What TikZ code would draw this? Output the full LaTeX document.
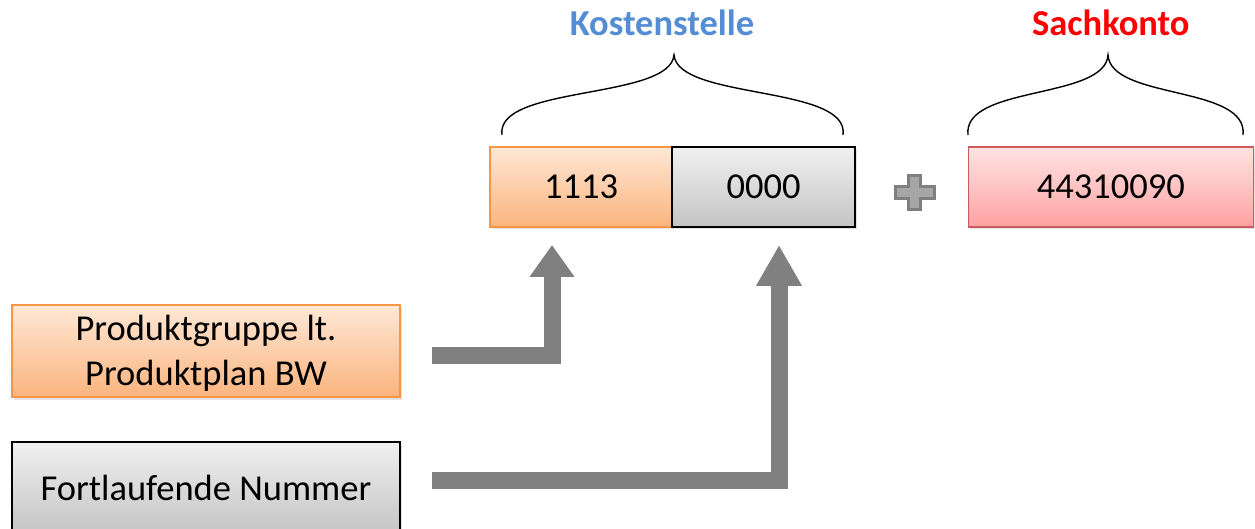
\documentclass[tikz,border=0pt]{standalone}
\usepackage{fontspec}
\setmainfont{Carlito}
\usetikzlibrary{arrows.meta,shadows}
\definecolor{orbd}{HTML}{F79646}
\definecolor{ortop}{HTML}{FEE8D6}
\definecolor{orbot}{HTML}{FAB47E}
\definecolor{grtop}{HTML}{F0F0F0}
\definecolor{grbot}{HTML}{C4C4C4}
\definecolor{pktop}{HTML}{FFE3E3}
\definecolor{pkbot}{HTML}{FFA2A2}
\definecolor{pkbd}{HTML}{CC5C5C}
\definecolor{lblue}{HTML}{548DD4}
\definecolor{arrgray}{HTML}{808080}
\definecolor{plusfill}{HTML}{A6A6A6}
\definecolor{plusbd}{HTML}{7F7F7F}
\begin{document}
\begin{tikzpicture}[x=1pt,y=-1pt,
  boxs/.style={draw, line width=1.3pt, inner sep=0pt, align=center,
    font=\fontsize{36.5}{45}\selectfont,
    drop shadow={shadow xshift=1.5pt, shadow yshift=-2.5pt, opacity=0.22}},
  orbox/.style={boxs, draw=orbd, top color=ortop, bottom color=orbot},
  grbox/.style={boxs, draw=black, top color=grtop, bottom color=grbot},
  pkbox/.style={boxs, draw=pkbd, top color=pktop, bottom color=pkbot},
  lbl/.style={font=\bfseries\fontsize{36.5}{40}\selectfont, anchor=base, inner sep=0pt},
  brace/.style={draw=black, line width=1.4pt},
  bigarrow/.style={draw=arrgray, line width=17pt, line join=miter}
]
\useasboundingbox (0,0) rectangle (1255,529);
\begin{scope}
\clip (0,0) rectangle (1255,529);
% top boxes
\node[orbox, minimum width=182pt, minimum height=80pt] (n1113) at (581,187) {1113};
\node[grbox, minimum width=183pt, minimum height=80pt] (n0000) at (763.5,187) {0000};
\node[pkbox, minimum width=285pt, minimum height=80pt] (nsk) at (1110.8,187) {44310090};
% left boxes
\node[orbox, minimum width=388pt, minimum height=92pt,
  text height=76pt, text depth=8pt] (npg) at (206,351) {Produktgruppe lt.\\Produktplan BW};
\node[grbox, minimum width=388pt, minimum height=92pt] (nfn) at (206,488) {Fortlaufende Nummer};
\end{scope}
% labels
\node[lbl, text=lblue] (lks) at (662,36) {Kostenstelle};
\node[lbl, text=red] (lsk) at (1110.8,36) {Sachkonto};
% braces
\draw[brace] (502,135) .. controls (495,85) and (670,100) .. (674,55)
  .. controls (678,100) and (850,85) .. (843,135);
\draw[brace] (968,135) .. controls (962.4,85) and (1105,100) .. (1108,55)
  .. controls (1110.7,100) and (1248.4,85) .. (1243,135);
% plus sign
\draw[fill=plusfill, draw=plusbd, line width=3pt]
  (908.5,175.5) -- (920.5,175.5) -- (920.5,186.5) -- (934,186.5) -- (934,198.5)
  -- (920.5,198.5) -- (920.5,209.5) -- (908.5,209.5) -- (908.5,198.5)
  -- (895,198.5) -- (895,186.5) -- (908.5,186.5) -- cycle;
% arrows
\coordinate (a1s) at (432,355);
\coordinate (a1e) at (552,245);
\coordinate (a2s) at (432,480.5);
\coordinate (a2e) at (779,245);
\draw[bigarrow, -{Triangle[length=32pt,width=43pt]}] (a1s) -| (a1e);
\draw[bigarrow, -{Triangle[length=41pt,width=43pt]}] (a2s) -| (a2e);
\end{tikzpicture}
\end{document}
